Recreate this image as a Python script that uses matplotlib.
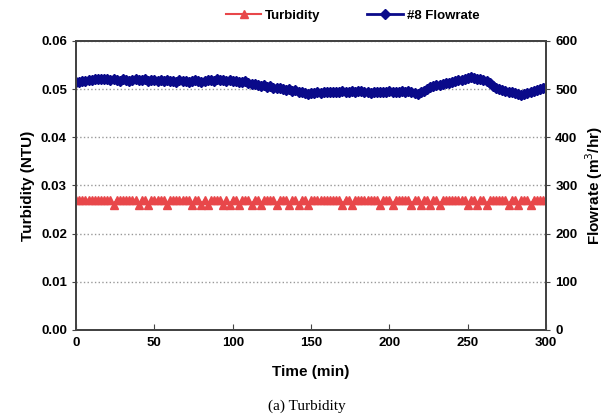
import numpy as np
import matplotlib.pyplot as plt

plt.rcParams['font.family'] = ['Liberation Sans', 'DejaVu Sans']

# time in minutes, one sample every 2 min
time_min = np.arange(0, 301, 2)

flowrate = [
    515, 514, 517, 516, 519, 518, 521, 520, 522, 521, 520,
    519, 521, 518, 517, 520, 519, 517, 518, 520, 519,
    518, 520, 517, 519, 518, 516, 518, 517, 519, 516,
    517, 515, 518, 516, 517, 515, 516, 518, 517, 515,
    516, 518, 519, 517, 520, 518, 519, 517, 518, 516,
    517, 515, 514, 516, 512, 510, 511, 508, 507, 508,
    505, 506, 503, 502, 503, 500, 499, 500, 497, 498,
    495, 494, 492, 490, 491, 492, 493, 491, 494, 493,
    494, 495, 493, 494, 496, 495, 494, 496, 495, 497,
    496, 493, 494, 492, 495, 494, 493, 495, 494, 496,
    494, 493, 495, 496, 494, 497, 495, 491, 490, 493,
    497, 500, 504, 507, 509, 508, 511, 513, 512, 515,
    516, 518, 519, 522, 524, 525, 523, 521, 522, 519,
    516, 512, 507, 503, 500, 498, 497, 494, 493, 491,
    490, 487, 489, 492, 494, 497, 499, 501, 503, 505,
]

turbidity = [
    0.027, 0.027, 0.027, 0.027, 0.027, 0.027, 0.027, 0.027, 0.027, 0.027, 0.027,
    0.027, 0.026, 0.027, 0.027, 0.027, 0.027, 0.027, 0.027, 0.027, 0.026,
    0.027, 0.027, 0.026, 0.027, 0.027, 0.027, 0.027, 0.027, 0.026, 0.027,
    0.027, 0.027, 0.027, 0.027, 0.027, 0.027, 0.026, 0.027, 0.027, 0.026,
    0.027, 0.026, 0.027, 0.027, 0.027, 0.027, 0.026, 0.027, 0.026, 0.027,
    0.027, 0.026, 0.027, 0.027, 0.027, 0.026, 0.027, 0.027, 0.026, 0.027,
    0.027, 0.027, 0.027, 0.026, 0.027, 0.027, 0.027, 0.026, 0.027, 0.027,
    0.026, 0.027, 0.027, 0.026, 0.027, 0.027, 0.027, 0.027, 0.027, 0.027,
    0.027, 0.027, 0.027, 0.027, 0.026, 0.027, 0.027, 0.026, 0.027, 0.027,
    0.027, 0.027, 0.027, 0.027, 0.027, 0.027, 0.026, 0.027, 0.027, 0.027,
    0.026, 0.027, 0.027, 0.027, 0.027, 0.027, 0.026, 0.027, 0.027, 0.026,
    0.027, 0.027, 0.026, 0.027, 0.027, 0.026, 0.027, 0.027, 0.027, 0.027,
    0.027, 0.027, 0.027, 0.027, 0.026, 0.027, 0.027, 0.026, 0.027, 0.027,
    0.026, 0.027, 0.027, 0.027, 0.027, 0.027, 0.027, 0.026, 0.027, 0.027,
    0.026, 0.027, 0.027, 0.027, 0.026, 0.027, 0.027, 0.027, 0.027, 0.027,
]

turb_ticks = [0.00, 0.01, 0.02, 0.03, 0.04, 0.05, 0.06]
flow_ticks = [0, 100, 200, 300, 400, 500, 600]
time_ticks = [0, 50, 100, 150, 200, 250, 300]

fig = plt.figure(figsize=(6.13, 4.18), dpi=100)
ax = fig.add_axes([0.124, 0.211, 0.767, 0.691])
ax2 = ax.twinx()

l1, = ax.plot(time_min, turbidity, color='#e8474a', marker='^', markersize=5.5,
              linewidth=1.5, label='Turbidity')
l2, = ax2.plot(time_min, flowrate, color='#0a0a8a', marker='D', markersize=5.5,
               linewidth=2, label='#8 Flowrate')

ax.set_xlim(0, 300)
ax.set_ylim(0, 0.06)
ax2.set_ylim(0, 600)
ax.set_xticks(time_ticks)
ax.set_yticks(turb_ticks)
ax.set_yticklabels([f'{v:.2f}' for v in turb_ticks])
ax2.set_yticks(flow_ticks)

ax.yaxis.grid(True, color='#999999', linestyle=':', linewidth=1.0)
ax.set_axisbelow(True)

for a in (ax, ax2):
    for s in a.spines.values():
        s.set_color('#444444')
        s.set_linewidth(1.4)
    for lab in a.get_xticklabels() + a.get_yticklabels():
        lab.set_fontweight('bold')
        lab.set_fontsize(9.5)
ax.tick_params(axis='x', direction='in', length=4, color='#444444', pad=5)
ax.tick_params(axis='y', direction='out', length=3, color='#444444')
ax2.tick_params(axis='y', direction='out', length=3, color='#444444')

ax.set_xlabel('Time (min)', fontsize=11, fontweight='bold', labelpad=12)
ax.set_ylabel('Turbidity (NTU)', fontsize=11, fontweight='bold', labelpad=4)
ax2.set_ylabel(r'Flowrate (m$^3$/hr)', fontsize=11, fontweight='bold', labelpad=4)

fig.legend(handles=[l1, l2], loc='upper center', bbox_to_anchor=(0.575, 1.005),
           ncol=2, frameon=False, columnspacing=3.5,
           handlelength=2.7, handletextpad=0.3,
           prop={'weight': 'bold', 'size': 9.5})

fig.text(0.5, 0.02, '(a) Turbidity', ha='center', fontsize=11,
         family=['Liberation Serif', 'DejaVu Serif'])

fig.savefig('out.png', dpi=100)
